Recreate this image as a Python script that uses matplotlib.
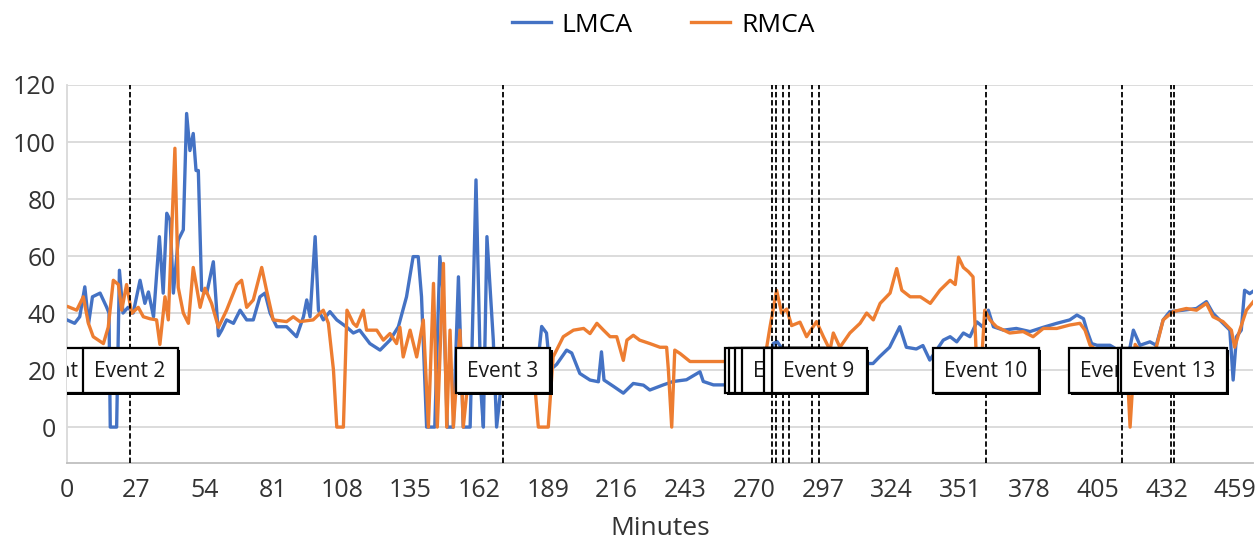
import numpy as np
import matplotlib as mpl
mpl.use('Agg')
from matplotlib import pyplot as plt
from matplotlib.patches import Rectangle

plt.rcParams['font.family'] = ['Open Sans', 'DejaVu Sans']

# LMCA (blue) readings: minutes and values
lmca_min = [0, 3, 5, 7, 8.5, 10, 13, 15.5, 16.5, 17, 19.5, 20.6, 22, 24, 26, 28.7, 30.6, 32, 34,
            36.3, 37.8, 39.2, 40.5, 41.8, 43.7, 45.7, 47, 48.3, 49.6, 50.7, 51.6, 52.9, 54.9, 57.5,
            59.5, 60.8, 62.7, 65.4, 68, 70.6, 73.2, 75.8, 77.8, 79.8, 82.4, 86.3, 90.2, 92.9, 94.2,
            95.5, 97.5, 98.8, 100.7, 103.3, 106, 110, 112.5, 115, 119, 123, 126.9, 130.2, 133.4,
            136, 138, 139.3, 141.3, 144.5, 146.5, 147.9, 149.4, 151.8, 153.8, 155.7, 158.4, 160.7,
            162.6, 163.6, 165, 167.5, 168.8, 171, 176, 181, 184.5, 186.5, 188.4, 189.8, 192.4,
            196.3, 198.3, 201.5, 205.5, 208.8, 210, 211, 214.7, 218.6, 222.5, 226.5, 229, 234.3,
            238.2, 243.4, 248.7, 250, 254, 258, 264, 270, 275, 277.5, 279, 283, 290, 300, 308,
            314, 316.7, 319.3, 323.2, 327.2, 329.8, 333.7, 336.3, 339, 344.3, 347, 349.6, 352.2,
            354.8, 357.5, 360, 362, 364, 368, 373, 378.4, 383.6, 388.9, 394, 396.8, 399.4, 400.7,
            402.6, 404.7, 409.8, 413, 417, 419, 421.6, 425.5, 428, 430.7, 433.3, 438.5, 443.8,
            447.7, 450.3, 454.2, 456.9, 458.2, 459.5, 461.4, 462.7, 464.7, 466.6]
lmca_val = [37.6, 36.4, 38.7, 49.2, 36.4, 45.7, 47, 42.2, 40, 0, 0, 55, 40, 42, 40, 51.5, 43.4, 47.4,
            38.7, 66.8, 47, 75, 72.6, 47, 65.6, 69.2, 110, 97, 103, 90, 90, 48, 47, 58, 32, 34,
            37.6, 36.4, 41, 37.6, 37.6, 45.7, 47, 40, 35.2, 35.2, 31.7, 38.7, 44.6, 38.7, 66.8, 41,
            37.6, 40.5, 37.6, 35, 33, 34, 29.3, 27, 30.5, 35.2, 45.7, 59.8, 59.8, 45.7, 0, 0, 59.8,
            45.7, 0, 0, 52.7, 0, 0, 86.7, 13, 0, 66.8, 30.5, 0, 18, 20, 19, 18, 35.3, 33, 20, 22,
            27, 26, 18.8, 16.5, 15.9, 26.4, 16.5, 14.3, 11.9, 15.3, 14.7, 13, 14.8, 16, 16.6, 19.4,
            16, 14.8, 14.8, 15, 15, 16, 29.3, 30, 25, 24, 23, 22, 22.3, 22.3, 24.7, 28, 35.2, 28,
            27.4, 28.6, 23.5, 30.5, 31.7, 29.9, 33, 31.7, 36.9, 35, 41, 35.2, 34, 34.6, 33.5, 35,
            36.4, 37.6, 39.3, 38, 34, 29.3, 28.7, 28.7, 27, 25, 34, 28.7, 29.9, 28.7, 37.6, 40.5,
            41, 41.6, 44, 39.9, 36.4, 34, 16.5, 31.7, 34, 48, 46.8, 48]

# RMCA (orange) readings
rmca_min = [0.5, 3.8, 6.4, 8.4, 10.3, 14.3, 16.2, 18.2, 20.2, 21.5, 23.4, 25.4, 28, 30, 32.6, 35.2,
            36.5, 38.5, 39.8, 42.4, 43.7, 45.7, 47.7, 49.6, 52.3, 54.2, 56.8, 59.5, 62.7, 66.7,
            68.6, 70.6, 73.2, 76.5, 78.4, 81, 86.3, 88.9, 91.5, 96.7, 100.7, 102.7, 104.7, 106,
            108.6, 110, 112.5, 113.8, 116.4, 117.7, 121.7, 124.3, 126.9, 129.5, 130.8, 132.1,
            134.8, 137.4, 140, 142, 144, 145.5, 147.9, 149.2, 150.5, 151.8, 154.4, 155.7, 158, 170,
            180, 183.5, 185.2, 189.1, 191, 195, 199, 203, 205.5, 208.2, 210.8, 213.4, 216, 218.6,
            220, 222.5, 225, 229, 233, 235.6, 236.3, 237.6, 238.8, 240.9, 244.8, 248.7, 258, 266,
            274, 276.2, 278.8, 280.8, 282.8, 284.7, 288, 290.6, 294.5, 297.2, 299.8, 301.1, 303.7,
            307.6, 311.6, 314.2, 316.8, 319.5, 323.4, 326, 328, 331.3, 335.3, 339.2, 343, 347, 349,
            350.3, 352.2, 354.2, 356, 357.5, 359, 360.6, 362.6, 365.2, 370.4, 375.7, 379.6, 383.6,
            388.9, 394, 398, 400, 402, 406, 412, 416.5, 417.7, 419.7, 423, 428, 430.7, 434.6, 439.8,
            443.8, 447.7, 450.3, 454.2, 457.5, 458.8, 460.8, 463.4, 466.6]
rmca_val = [42.2, 41, 45.7, 36.4, 31.7, 29.3, 35, 51.5, 50, 41, 50, 39.9, 42, 38.7, 38, 37.6, 29,
            45.7, 37.6, 97.8, 49, 40, 36.4, 56, 42, 48.7, 43.4, 35, 41, 50, 51.5, 42, 44.6, 56, 48,
            37.6, 37, 38.7, 37, 37.6, 41, 36.4, 20, 0, 0, 41, 36.4, 35.3, 41, 34, 34, 30.5, 32.8,
            29.3, 35, 24.6, 34, 24.6, 37.6, 0, 50.4, 0, 57.4, 0, 34, 0, 34, 0, 20, 21, 20, 18, 0,
            0, 24.6, 31.7, 34, 34.6, 32.8, 36.4, 34, 31.7, 31.7, 23.4, 30.5, 32.2, 30.5, 29.3, 28,
            28, 20, 0, 27, 25.8, 23, 23, 23, 23, 23, 35, 48, 40, 41.4, 35.6, 36.8, 31.7, 37, 31.7,
            27, 33, 28, 33, 36.4, 40, 37.6, 43.4, 47, 55.6, 48, 45.7, 45.7, 43.4, 48, 51.5, 50,
            59.6, 56, 54.5, 52.7, 20, 18, 41, 37.6, 35.2, 33, 33.5, 31.7, 34.6, 34.6, 35.8, 36.4,
            34, 28.7, 26, 25, 22, 0, 29, 25, 28, 37.6, 40.5, 41.6, 41, 43.4, 38.7, 37, 34, 28, 34,
            41, 44.5]

# event markers (minutes)
event_names = ['Event 1', 'Event 2', 'Event 3', 'Event 4', 'Event 5', 'Event 6', 'Event 7',
               'Event 8', 'Event 9', 'Event 10', 'Event 11', 'Event 12', 'Event 13']
event_min = [-3.0, 24.8, 171.3, 277.0, 278.6, 281.3, 283.7, 292.7, 295.5, 361.1, 414.5, 433.8, 435.0]

x_ticks = list(range(0, 460, 27))
y_ticks = [0, 20, 40, 60, 80, 100, 120]

BLUE = '#4472C4'
ORANGE = '#ED7D31'
TXT = '#333333'

fig = plt.figure(figsize=(12.56, 5.43), dpi=100)
ax = fig.add_axes([67 / 1256, 80 / 543, 1186 / 1256, 378 / 543])

l1, = ax.plot(lmca_min, lmca_val, color=BLUE, lw=2.4, zorder=3, label='LMCA')
l2, = ax.plot(rmca_min, rmca_val, color=ORANGE, lw=2.4, zorder=3, label='RMCA')

for i, (name, x) in enumerate(zip(event_names, event_min)):
    ax.axvline(x, color='black', lw=1.3, ls=(0, (3, 1.5)), zorder=5)
    w = 41.6 if len(name) > 7 else 37.3
    z = 10 + 3 * i
    # darker bottom/right edge like the original label boxes
    ax.add_patch(Rectangle((x - w / 2 + 0.9, 11.2), w, 16.0, facecolor='black',
                           edgecolor='none', zorder=z))
    ax.add_patch(Rectangle((x - w / 2, 12.0), w, 15.8, facecolor='white',
                           edgecolor='black', lw=1.6, zorder=z + 1))
    ax.text(x, 19.6, name, ha='center', va='center', fontsize=15, color='#1a1a1a',
            zorder=z + 2, clip_on=True)

ax.set_xlim(0, 466)
ax.set_ylim(-12.6, 120)
ax.set_xticks(x_ticks)
ax.set_yticks(y_ticks)
ax.tick_params(axis='both', length=0, labelsize=18, colors=TXT)
ax.tick_params(axis='x', pad=11)
ax.tick_params(axis='y', pad=8)
ax.yaxis.grid(True, color='#d9d9d9', lw=1.3)
ax.set_axisbelow(True)
for s in ['top', 'right']:
    ax.spines[s].set_visible(False)
ax.spines['left'].set_color('#d9d9d9')
ax.spines['bottom'].set_color('#bfbfbf')
ax.spines['left'].set_linewidth(1.3)
ax.spines['bottom'].set_linewidth(1.3)
ax.set_xlabel('Minutes', fontsize=19, color=TXT, labelpad=9)

fig.legend(handles=[l1, l2], loc='center', bbox_to_anchor=(663 / 1256, 1 - 25 / 543), ncol=2,
           frameon=False, fontsize=19, handlelength=1.5, columnspacing=2.2, handletextpad=0.4)

fig.savefig('out.png', dpi=100)
